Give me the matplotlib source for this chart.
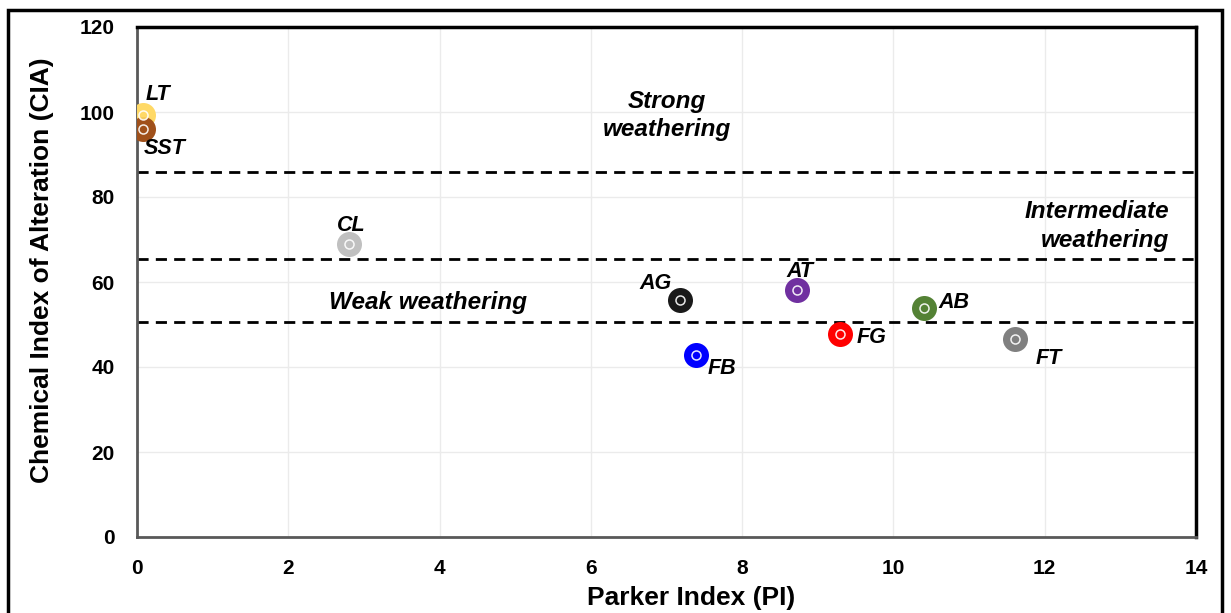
import matplotlib
matplotlib.use("Agg")
import matplotlib.pyplot as plt
from matplotlib.patches import Rectangle

plt.rcParams['font.family'] = ['Liberation Sans', 'DejaVu Sans']

samples = ["LT", "SST", "CL", "AG", "AT", "FB", "FG", "AB", "FT"]
pi_values = [0.08, 0.08, 2.80, 7.18, 8.72, 7.39, 9.30, 10.40, 11.61]
cia_values = [99.3, 96.0, 68.9, 55.8, 58.1, 42.8, 47.8, 53.9, 46.6]
colors = ["#FFD966", "#A0501A", "#C0C0C0", "#1A1A1A", "#7030A0",
          "#0000FF", "#FF0000", "#548235", "#808080"]
label_offsets = [(15, 20), (22, -20), (2, 19), (-25, 16), (3, 19),
                 (26, -13), (31, -4), (30, 5), (34, -20)]
thresholds = [86, 65.5, 50.5]
x_ticks = [0, 2, 4, 6, 8, 10, 12, 14]
y_ticks = [0, 20, 40, 60, 80, 100, 120]

fig = plt.figure(figsize=(12.31, 6.13), dpi=100)
ax = fig.add_axes([137/1231, 1-537/613, (1196-137)/1231, (537-27)/613])

ax.set_xlim(0, 14)
ax.set_ylim(0, 120)
ax.set_xticks(x_ticks)
ax.set_yticks(y_ticks)
ax.grid(True, color="#EBEBEB", linewidth=1)
ax.set_axisbelow(True)
ax.tick_params(axis='x', length=0, labelsize=15, pad=16)
ax.tick_params(axis='y', length=0, labelsize=15, pad=16)
for lab in ax.get_xticklabels() + ax.get_yticklabels():
    lab.set_fontweight('bold')

for y in thresholds:
    ax.axhline(y, color="black", linestyle=(0, (4, 2.6)), linewidth=2, zorder=2)

for x, y, c, name, (dx, dy) in zip(pi_values, cia_values, colors, samples, label_offsets):
    ax.plot(x, y, 'o', markersize=18, color=c, markeredgewidth=0, zorder=3)
    ax.plot(x, y, 'o', markersize=6.5, markerfacecolor=c, markeredgecolor="white",
            markeredgewidth=1.1, zorder=4, alpha=0.9)
    ax.annotate(name, (x, y), xytext=(dx, dy), textcoords='offset pixels',
                ha='center', va='center', fontsize=15.5, fontweight='bold',
                fontstyle='italic', zorder=5)

ax.text(7.01, 99.2, "Strong\nweathering", ha='center', va='center',
        fontsize=17.5, fontweight='bold', fontstyle='italic', linespacing=1.3)
ax.text(13.64, 73.2, "Intermediate\nweathering", ha='right', va='center',
        multialignment='right', fontsize=17.5, fontweight='bold',
        fontstyle='italic', linespacing=1.3)
ax.text(3.85, 55.1, "Weak weathering", ha='center', va='center',
        fontsize=17.5, fontweight='bold', fontstyle='italic')

ax.set_xlabel("Parker Index (PI)", fontsize=19, fontweight='bold')
ax.xaxis.set_label_coords((691-137)/1059, -(598-537)/510)
ax.xaxis.label.set_va('center')
ax.set_ylabel("Chemical Index of Alteration (CIA)", fontsize=19,
              fontweight='bold')
ax.yaxis.set_label_coords(-(137-42)/1059, (537-270)/510)
ax.yaxis.label.set_va('center')

ax.spines['left'].set_color("#595959")
ax.spines['bottom'].set_color("#595959")
ax.spines['left'].set_linewidth(2)
ax.spines['bottom'].set_linewidth(2)
ax.spines['top'].set_color("black")
ax.spines['right'].set_color("black")
ax.spines['top'].set_linewidth(2.5)
ax.spines['right'].set_linewidth(2.5)

fig.patches.append(Rectangle((8/1231, -0.05), (1222-8)/1231, 1-10/613+0.05,
                             transform=fig.transFigure, fill=False,
                             edgecolor="black", linewidth=2.5))

fig.savefig("out.png", dpi=100)
